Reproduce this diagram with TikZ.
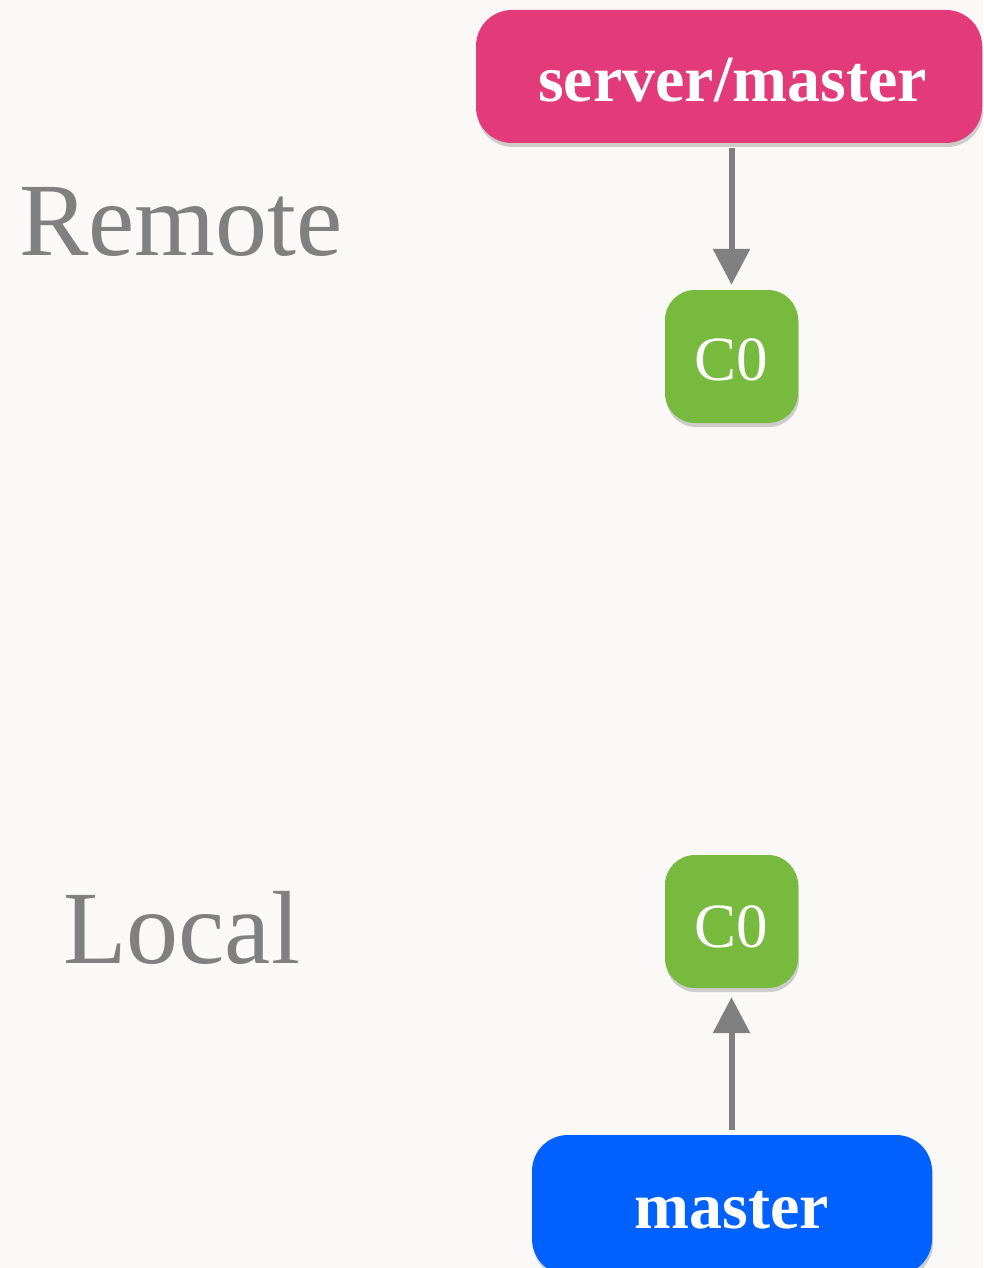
\documentclass[tikz,border=0pt]{standalone}
\newif\ifpal
\IfFileExists{t1ppl.fd}{\IfFileExists{pplr8t.tfm}{\IfFileExists{pplb8t.tfm}{\paltrue}{}}{}}{}
\ifpal
  \usepackage[T1]{fontenc}
  \renewcommand{\rmdefault}{ppl}
  \newcommand{\branchsize}{\fontsize{64}{70}\selectfont\bfseries}
  \newcommand{\commitsize}{\fontsize{60}{66}\selectfont}
  \newcommand{\sidesize}{\fontsize{95}{100}\selectfont}
\else
  \usepackage{fontspec}
  \setmainfont{Liberation Serif}
  \newcommand{\branchsize}{\fontsize{66}{72}\selectfont\bfseries}
  \newcommand{\commitsize}{\fontsize{63}{68}\selectfont}
  \newcommand{\sidesize}{\fontsize{104}{110}\selectfont}
\fi
\usetikzlibrary{arrows.meta,shadows}
\definecolor{bgc}{HTML}{FAF9F7}
\definecolor{pinkc}{HTML}{E33A7A}
\definecolor{greenc}{HTML}{77BA3E}
\definecolor{bluec}{HTML}{0061FF}
\definecolor{grayc}{HTML}{808080}
\tikzset{
  boxshadow/.style={drop shadow={shadow xshift=1pt,shadow yshift=-4pt,opacity=0.18,fill=black}},
  branchbox/.style={rounded corners=36pt,inner sep=0pt,boxshadow},
  commitbox/.style={rounded corners=30pt,inner sep=0pt,minimum width=133pt,minimum height=133pt,fill=greenc,boxshadow},
  boxtext/.style={text=white,anchor=base,inner sep=0pt},
  sidetext/.style={text=grayc,anchor=base,inner sep=0pt,font=\sidesize},
  connector/.style={draw=grayc,line width=6pt,-{Triangle[length=36pt,width=36pt]}}
}
\begin{document}
\begin{tikzpicture}[x=1pt,y=-1pt]
\fill[bgc] (0,0) rectangle (983,1268);
\useasboundingbox (0,0) rectangle (983,1268);
% boxes
\node[branchbox,fill=pinkc,minimum width=506pt,minimum height=133pt] (sm) at (729,76.5) {};
\node[commitbox] (c0r) at (731.5,356.5) {};
\node[commitbox] (c0l) at (731.5,921.5) {};
\node[branchbox,fill=bluec,minimum width=400pt,minimum height=140pt] (m) at (732,1205) {};
% texts
\node[boxtext,font=\branchsize] (smt) at (732.5,102) {server/master};
\node[boxtext,font=\commitsize] (c0rt) at (731.5,380) {C0};
\node[boxtext,font=\commitsize] (c0lt) at (731.5,947) {C0};
\node[boxtext,font=\branchsize] (mt) at (731.5,1228) {master};
\node[sidetext] (remote) at (181,255) {Remote};
\node[sidetext] (local) at (181.5,963) {Local};
% connectors
\draw[connector,shorten <=5pt,shorten >=5pt] (sm.south -| c0r.north) -- (c0r.north);
\draw[connector,shorten <=5pt,shorten >=9pt] (m.north -| c0l.south) -- (c0l.south);
\end{tikzpicture}
\end{document}
